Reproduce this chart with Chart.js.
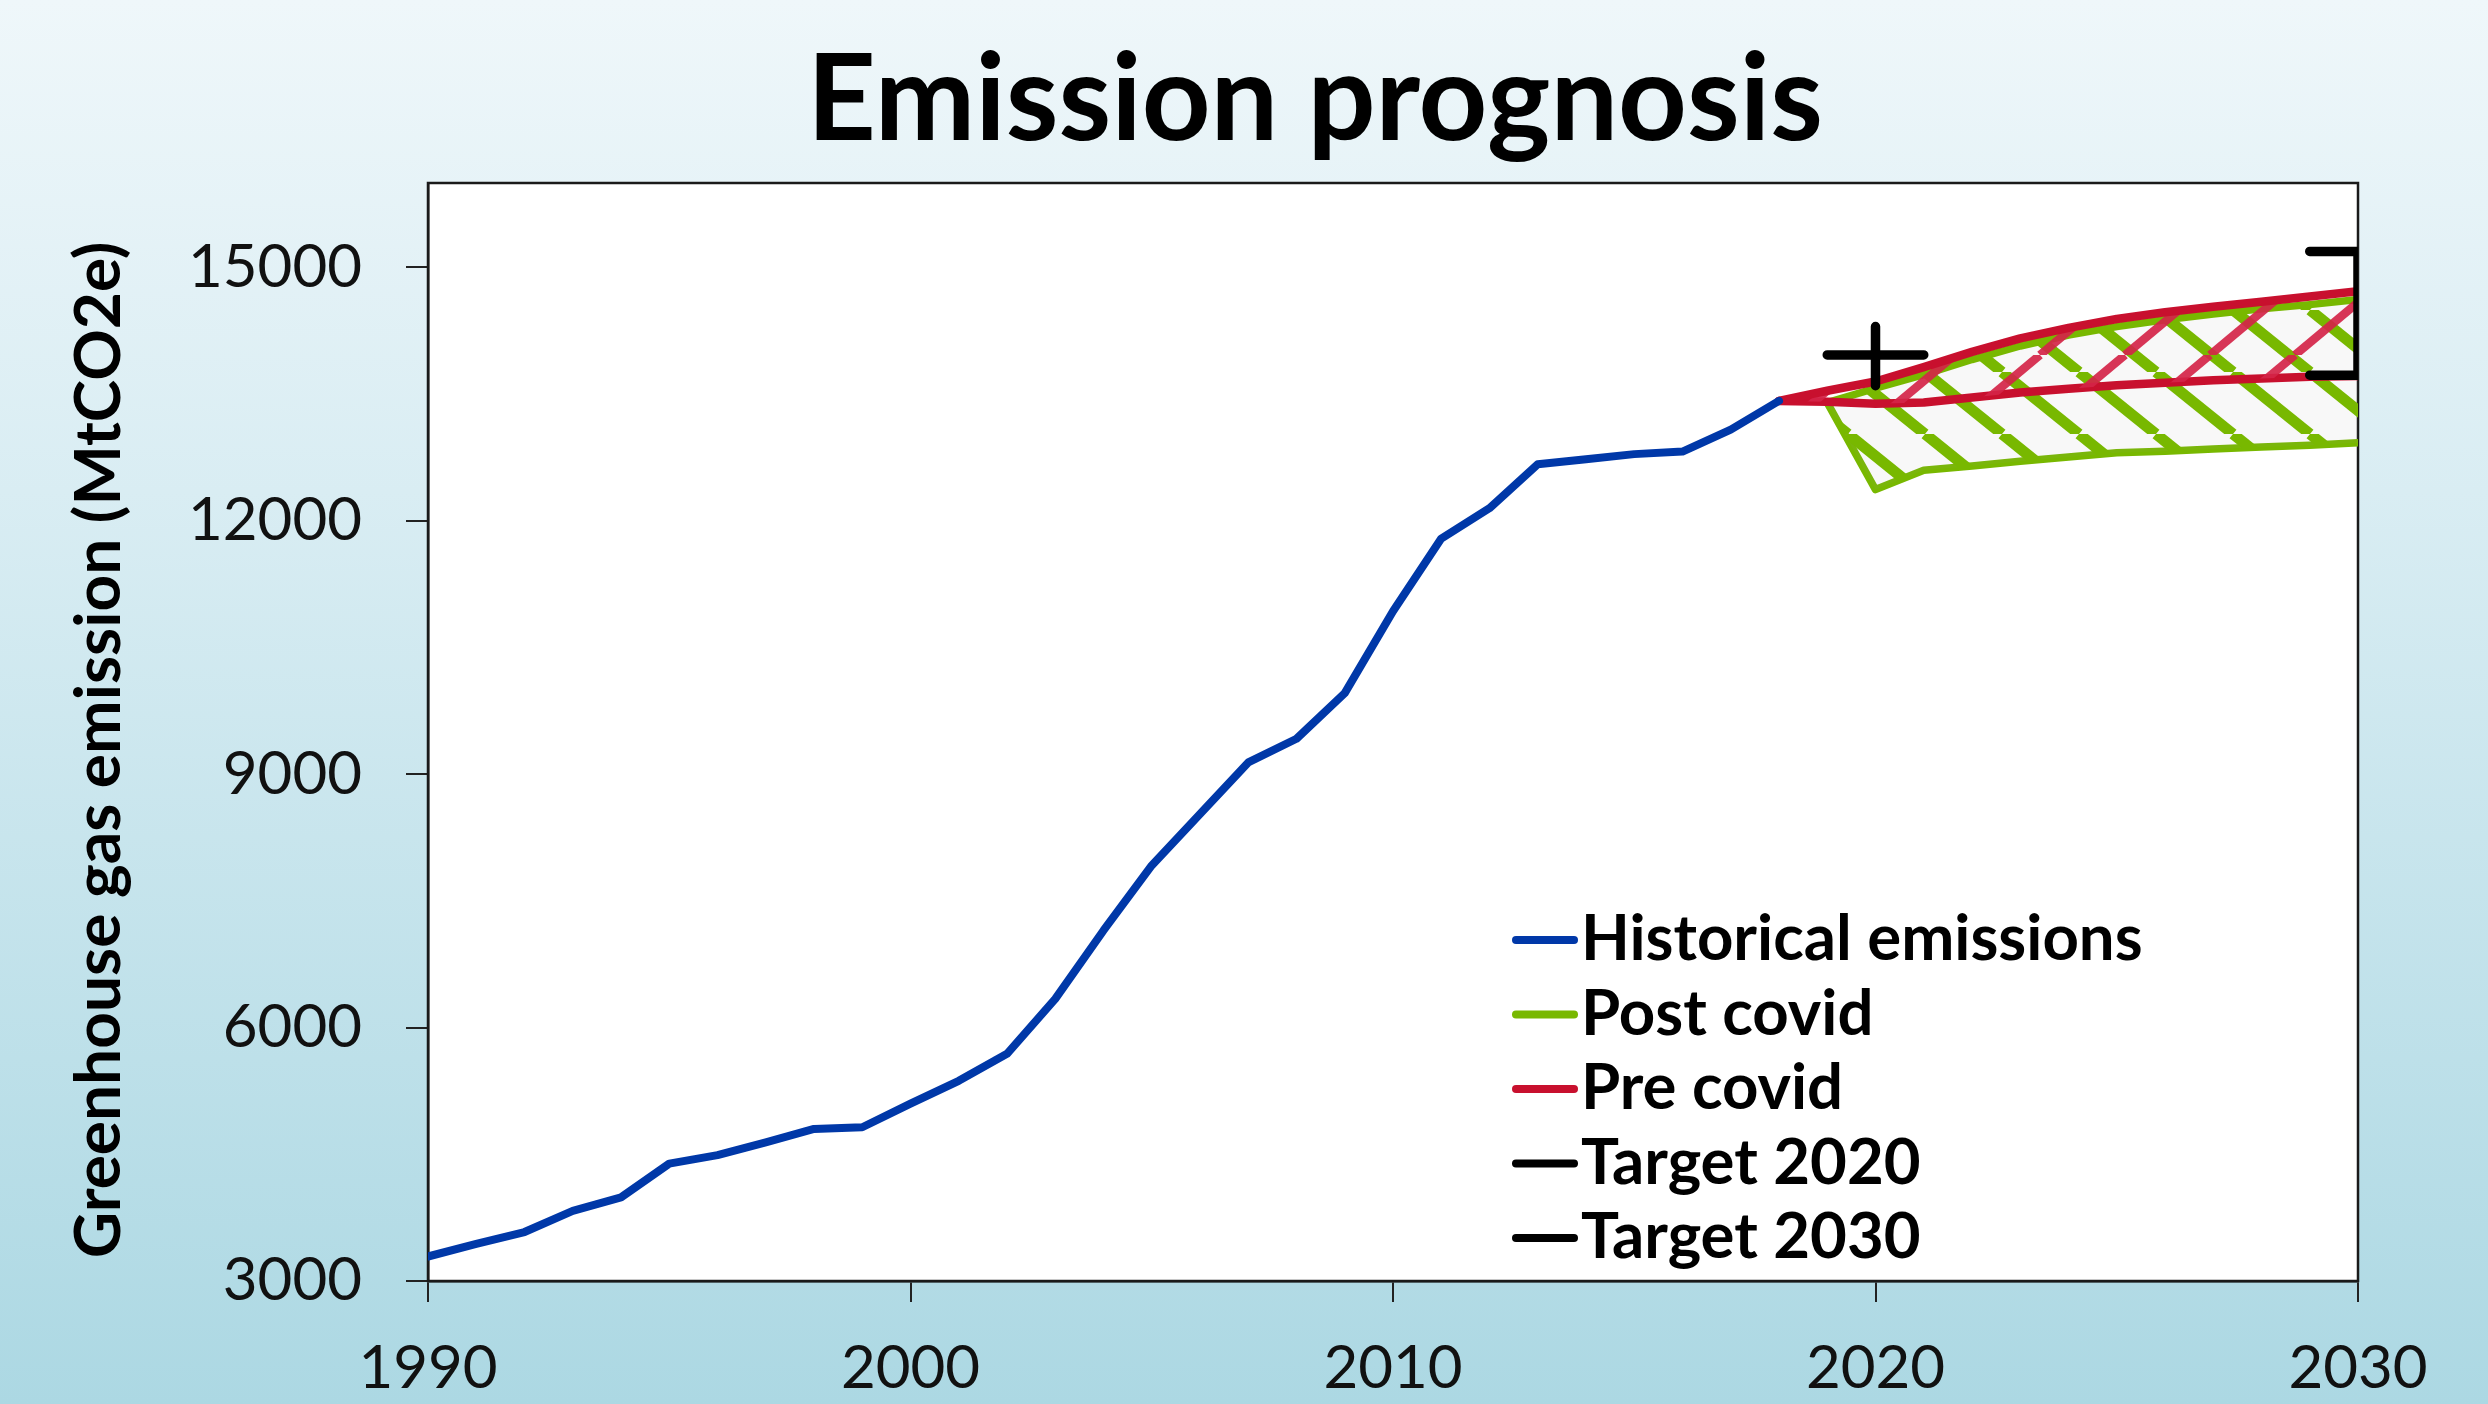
<!DOCTYPE html>
<html><head><meta charset="utf-8">
<script src="https://cdn.jsdelivr.net/npm/chart.js@4.4.1/dist/chart.umd.min.js"></script>
<style>
html,body{margin:0;padding:0;overflow:hidden;}
body{width:2488px;height:1404px;background:linear-gradient(to bottom,#eff7fa 0%,#d9edf3 35%,#acd8e3 100%);}
canvas{display:block;}
</style></head><body>
<canvas id="c" width="2488" height="1404"></canvas>
<script>
// ---------- data ----------
const chartTitle = 'Emission prognosis';
const yAxisTitle = 'Greenhouse gas emission (MtCO2e)';
const xTicks = [1990, 2000, 2010, 2020, 2030];
const yTicks = [3000, 6000, 9000, 12000, 15000];

const historicalYears = [1990,1991,1992,1993,1994,1995,1996,1997,1998,1999,2000,2001,2002,2003,2004,2005,2006,2007,2008,2009,2010,2011,2012,2013,2014,2015,2016,2017,2018];
const historicalValues = [3290,3440,3580,3830,3990,4390,4490,4640,4800,4820,5100,5370,5690,6340,7150,7920,8530,9140,9420,9960,10930,11790,12150,12670,12730,12790,12820,13080,13420];

const preCovidYears = [2018,2019,2020,2021,2022,2023,2024,2025,2026,2027,2028,2029,2030];
const preCovidHigh = [13420,13540,13650,13820,14000,14160,14285,14390,14470,14535,14595,14655,14720];
const preCovidLow  = [13420,13410,13385,13400,13460,13520,13565,13605,13635,13665,13685,13705,13715];

const postCovidYears = [2019,2020,2021,2022,2023,2024,2025,2026,2027,2028,2029,2030];
const postCovidHigh = [13400,13570,13730,13910,14070,14200,14300,14380,14450,14510,14560,14620];
const postCovidLow  = [13400,12370,12600,12650,12705,12755,12805,12825,12850,12875,12895,12925];

const target2020Years  = [2019, 2021, 2020, 2020, 2020];
const target2020Values = [13965, 13965, null, 13600, 14300];
const target2030Years  = [2029, 2030, 2030, 2029];
const target2030Values = [15190, 15190, 13725, 13725];

// ---------- helpers ----------
const pts = (xs, ys) => xs.map((x, i) => ({x: x, y: ys[i]}));

function hatch(color, w, h, lw, dir, base) {
  const c = document.createElement('canvas');
  c.width = w; c.height = h;
  const g = c.getContext('2d');
  if (base) { g.fillStyle = base; g.fillRect(0, 0, w, h); }
  g.strokeStyle = color; g.lineWidth = lw;
  for (const off of [-w, 0, w]) {
    g.beginPath();
    if (dir === 'down') { g.moveTo(off, 0); g.lineTo(off + w, h); }
    else { g.moveTo(off, h); g.lineTo(off + w, 0); }
    g.stroke();
  }
  return g.createPattern(c, 'repeat');
}

const BLUE = '#0038a8', GREEN = '#78b800', RED = '#c8102e', BLACK = '#000000';
const greenHatch = hatch(GREEN, 77, 62, 11, 'down', 'rgba(150,150,150,0.07)');
const redHatch = hatch('rgba(212,36,72,0.92)', 85, 71, 8.5, 'up', null);

const lineBase = {pointRadius: 0, pointHoverRadius: 0, tension: 0, borderJoinStyle: 'round', borderCapStyle: 'round', fill: false, spanGaps: false};

const datasets = [
  Object.assign({}, lineBase, {legendLabel: 'Historical emissions', legendRank: 0, data: pts(historicalYears, historicalValues), borderColor: BLUE, borderWidth: 8, order: 1}),
  Object.assign({}, lineBase, {legendLabel: 'Post covid', legendRank: 1, data: pts(postCovidYears, postCovidHigh), borderColor: GREEN, borderWidth: 7.5, fill: '+1', backgroundColor: greenHatch, order: 3}),
  Object.assign({}, lineBase, {data: pts(postCovidYears, postCovidLow), borderColor: GREEN, borderWidth: 7.5, order: 3}),
  Object.assign({}, lineBase, {legendLabel: 'Pre covid', legendRank: 2, data: pts(preCovidYears, preCovidHigh), borderColor: RED, borderWidth: 8.5, fill: '+1', backgroundColor: redHatch, order: 2}),
  Object.assign({}, lineBase, {data: pts(preCovidYears, preCovidLow), borderColor: RED, borderWidth: 8.5, order: 2}),
  Object.assign({}, lineBase, {legendLabel: 'Target 2020', legendRank: 3, data: pts(target2020Years, target2020Values), borderColor: BLACK, borderWidth: 9.5, borderCapStyle: 'round', order: 0}),
  Object.assign({}, lineBase, {legendLabel: 'Target 2030', legendRank: 4, data: pts(target2030Years, target2030Values), borderColor: BLACK, borderWidth: 9.5, borderCapStyle: 'round', borderJoinStyle: 'miter', order: 0})
];

// ---------- decoration plugin (plot background, frame, titles, legend) ----------
const decor = {
  id: 'decor',
  beforeDraw(chart) {
    const {ctx, chartArea: a} = chart;
    ctx.save();
    ctx.fillStyle = '#ffffff';
    ctx.fillRect(a.left, a.top, a.width, a.height);
    ctx.restore();
  },
  beforeDatasetsDraw(chart, args, o) {
    const {ctx, chartArea: a} = chart;
    ctx.save();
    ctx.strokeStyle = '#1a1a1a';
    ctx.lineWidth = o.frameWidth;
    ctx.strokeRect(a.left, a.top, a.width, a.height);
    ctx.restore();
  },
  afterDraw(chart, args, o) {
    const {ctx, chartArea: a} = chart;
    ctx.save();
    // chart title
    ctx.fillStyle = '#000';
    ctx.font = o.titleFont;
    ctx.textAlign = 'center';
    ctx.textBaseline = 'alphabetic';
    ctx.fillText(chartTitle, (a.left + a.right) / 2 + o.titleShift, o.titleBaseline);
    // y-axis title
    ctx.save();
    ctx.translate(o.yTitleX, (a.top + a.bottom) / 2 + o.yTitleShift);
    ctx.rotate(-Math.PI / 2);
    ctx.font = o.yTitleFont;
    ctx.textAlign = 'center';
    ctx.textBaseline = 'middle';
    ctx.fillText(yAxisTitle, 0, 0);
    ctx.restore();
    // legend
    const items = chart.data.datasets.filter(d => d.legendLabel).sort((p, q) => p.legendRank - q.legendRank);
    ctx.font = o.legendFont;
    ctx.textAlign = 'left';
    ctx.textBaseline = 'alphabetic';
    items.forEach((d, i) => {
      const base = o.legendY + i * o.legendStep;
      const ly = base - o.legendLineRaise;
      ctx.strokeStyle = d.borderColor;
      ctx.lineWidth = 8;
      ctx.lineCap = 'round';
      ctx.beginPath();
      ctx.moveTo(o.legendX + 4, ly);
      ctx.lineTo(o.legendX + o.legendLineLen - 4, ly);
      ctx.stroke();
      ctx.fillStyle = '#000';
      ctx.fillText(d.legendLabel, o.legendX + o.legendLineLen + 3, base);
    });
    ctx.restore();
  }
};

new Chart(document.getElementById('c'), {
  type: 'line',
  data: {datasets: datasets},
  plugins: [decor],
  options: {
    responsive: false,
    animation: false,
    events: [],
    layout: {padding: {top: 183, right: 130, left: 0, bottom: 0}},
    plugins: {
      legend: {display: false},
      title: {display: false},
      tooltip: {enabled: false},
      decor: {
        frameWidth: 2.5,
        titleFont: 'bold 120px Lato',
        titleShift: -78,
        titleBaseline: 140,
        yTitleFont: 'bold 64px Lato',
        yTitleX: 99,
        yTitleShift: 18,
        legendFont: 'bold 63.5px Lato',
        legendX: 1512,
        legendY: 960,
        legendStep: 74.5,
        legendLineRaise: 20,
        legendLineLen: 66
      }
    },
    scales: {
      x: {
        type: 'linear',
        min: 1990, max: 2030,
        afterBuildTicks: axis => { axis.ticks = xTicks.map(v => ({value: v})); },
        afterFit: axis => { axis.height = 123; },
        ticks: {font: {family: 'Lato', size: 60}, color: '#111', padding: 31, maxRotation: 0, callback: v => String(v)},
        grid: {drawOnChartArea: false, drawTicks: true, tickLength: 21, color: '#222', lineWidth: 2},
        border: {display: true, color: '#1a1a1a', width: 2.5}
      },
      y: {
        type: 'linear',
        min: 3000, max: 16000,
        afterBuildTicks: axis => { axis.ticks = yTicks.map(v => ({value: v})); },
        afterFit: axis => { axis.width = 428; },
        ticks: {font: {family: 'Lato', size: 60}, color: '#111', padding: 44, callback: v => String(v)},
        grid: {drawOnChartArea: false, drawTicks: true, tickLength: 22, color: '#222', lineWidth: 2},
        border: {display: true, color: '#1a1a1a', width: 2.5},
        title: {display: false}
      }
    }
  }
});
</script>
</body></html>
